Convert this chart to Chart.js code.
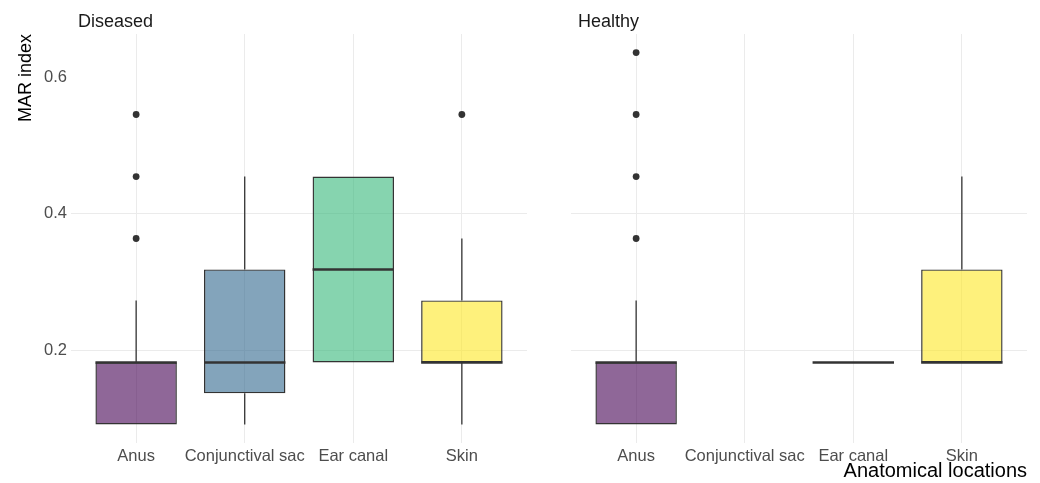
<!DOCTYPE html>
<html>
<head>
<meta charset="utf-8">
<script src="https://cdn.jsdelivr.net/npm/chart.js@4.4.1/dist/chart.umd.min.js"></script>
<style>
  body { margin: 0; background: #fff; }
  #wrap { position: relative; width: 1040px; height: 483px; }
  canvas { position: absolute; top: 0; }
</style>
</head>
<body>
<div id="wrap">
  <canvas id="diseased" width="549" height="483" style="left:0"></canvas>
  <canvas id="healthy" width="491" height="483" style="left:549px"></canvas>
</div>
<script>
// -- THE DATA --

const locations = ['Anus', 'Conjunctival sac', 'Ear canal', 'Skin'];
const yTicks = [0.2, 0.4, 0.6];

// Diseased: box summaries per location (MAR index)
const diseasedLow      = [0.0909, 0.0909, 0.1818, 0.0909];
const diseasedQ1       = [0.0909, 0.1364, 0.1818, 0.1818];
const diseasedMedian   = [0.1818, 0.1818, 0.3182, 0.1818];
const diseasedQ3       = [0.1818, 0.3182, 0.4545, 0.2727];
const diseasedHigh     = [0.2727, 0.4545, 0.4545, 0.3636];
const diseasedOutliers = [[0.3636, 0.4545, 0.5455], [], [], [0.5455]];

// Healthy: no conjunctival sac isolates
const healthyLow      = [0.0909, null, 0.1818, 0.1818];
const healthyQ1       = [0.0909, null, 0.1818, 0.1818];
const healthyMedian   = [0.1818, null, 0.1818, 0.1818];
const healthyQ3       = [0.1818, null, 0.1818, 0.3182];
const healthyHigh     = [0.2727, null, 0.1818, 0.4545];
const healthyOutliers = [[0.3636, 0.4545, 0.5455, 0.6364], [], [], []];

// -- THE STYLE --

const boxColors = ['rgba(68,1,84,0.6)', 'rgba(49,104,142,0.6)', 'rgba(53,183,121,0.6)', 'rgba(253,231,37,0.6)'];
const ink = '#333333';
const gridColor = '#EBEBEB';
const fontFamily = '"Liberation Sans", Arial, sans-serif';

// whiskers, medians and facet label, drawn with the chart's own scales
const boxExtras = {
  id: 'boxExtras',
  afterDatasetsDraw(chart, args, opts) {
    const ctx = chart.ctx;
    const y = chart.scales.y;
    const meta = chart.getDatasetMeta(0);
    const raw = chart.data.datasets[0].data;
    const line = (x1, y1, x2, y2) => {
      ctx.beginPath();
      ctx.moveTo(x1, y1);
      ctx.lineTo(x2, y2);
      ctx.stroke();
    };
    ctx.save();
    ctx.strokeStyle = ink;
    meta.data.forEach((bar, j) => {
      const i = raw[j].x - 1;
      ctx.lineWidth = 1.3;
      if (opts.high[i] > opts.q3[i]) line(bar.x, y.getPixelForValue(opts.q3[i]), bar.x, y.getPixelForValue(opts.high[i]));
      if (opts.low[i] < opts.q1[i]) line(bar.x, y.getPixelForValue(opts.q1[i]), bar.x, y.getPixelForValue(opts.low[i]));
      ctx.lineWidth = 2.6;
      const ym = y.getPixelForValue(opts.median[i]);
      line(bar.x - bar.width / 2, ym, bar.x + bar.width / 2, ym);
    });
    // facet strip label
    ctx.fillStyle = '#1A1A1A';
    ctx.font = '18px ' + fontFamily;
    ctx.textBaseline = 'alphabetic';
    ctx.textAlign = 'left';
    ctx.fillText(opts.strip, chart.chartArea.left + 7, 27);
    ctx.restore();
  }
};

// -- THE CHARTS --

function drawPanel(id, strip, low, q1, median, q3, high, outliers, first) {
  const boxes = [];
  locations.forEach((loc, i) => {
    if (q1[i] != null) boxes.push({ x: i + 1, y: [q1[i], q3[i]] });
  });
  const points = [];
  outliers.forEach((vals, i) => vals.forEach(v => points.push({ x: i + 1, y: v })));

  new Chart(document.getElementById(id), {
    type: 'bar',
    data: {
      datasets: [
        {
          data: boxes,
          backgroundColor: c => boxColors[c.raw.x - 1],
          borderColor: ink,
          borderWidth: 1.4,
          borderSkipped: false,
          barPercentage: 0.75,
          categoryPercentage: 1
        },
        {
          type: 'scatter',
          data: points,
          pointRadius: 3.4,
          pointBackgroundColor: ink,
          pointBorderWidth: 0
        }
      ]
    },
    options: {
      responsive: false,
      animation: false,
      devicePixelRatio: 1,
      layout: { padding: first ? { top: 34, left: 0, right: 22, bottom: 0 } : { top: 34, left: 22, right: 13, bottom: 0 } },
      plugins: {
        legend: { display: false },
        tooltip: { enabled: false },
        boxExtras: { strip, low, q1, median, q3, high }
      },
      scales: {
        x: {
          type: 'linear',
          min: 0.4,
          max: 4.6,
          offset: false,
          afterBuildTicks: s => { s.ticks = locations.map((l, i) => ({ value: i + 1 })); },
          afterFit: s => { s.height = 40; },
          grid: { color: gridColor, lineWidth: 1, drawTicks: false, offset: false },
          border: { display: false },
          ticks: {
            padding: 4,
            color: '#4D4D4D',
            font: { family: fontFamily, size: 16.5 },
            autoSkip: false,
            maxRotation: 0,
            callback: v => locations[v - 1]
          },
          title: {
            display: !first,
            text: 'Anatomical locations',
            align: 'end',
            color: '#000000',
            font: { family: fontFamily, size: 20 },
            padding: { top: 0, bottom: 0 }
          }
        },
        y: {
          min: 0.0636,
          max: 0.6636,
          afterBuildTicks: s => { s.ticks = yTicks.map(v => ({ value: v })); },
          afterFit: s => { s.width = first ? 71 : 0; },
          grid: {
            color: c => (c.tick && c.tick.value === 0.6) ? 'rgba(0,0,0,0)' : gridColor,
            lineWidth: 1,
            drawTicks: false
          },
          border: { display: false },
          ticks: {
            display: first,
            padding: 4,
            color: '#4D4D4D',
            font: { family: fontFamily, size: 16.5 },
            callback: v => v.toFixed(1)
          },
          title: {
            display: first,
            text: 'MAR index',
            align: 'end',
            color: '#000000',
            font: { family: fontFamily, size: 18 },
            padding: { top: 15, bottom: 0 }
          }
        }
      }
    },
    plugins: [boxExtras]
  });
}

drawPanel('diseased', 'Diseased', diseasedLow, diseasedQ1, diseasedMedian, diseasedQ3, diseasedHigh, diseasedOutliers, true);
drawPanel('healthy', 'Healthy', healthyLow, healthyQ1, healthyMedian, healthyQ3, healthyHigh, healthyOutliers, false);
</script>
</body>
</html>
